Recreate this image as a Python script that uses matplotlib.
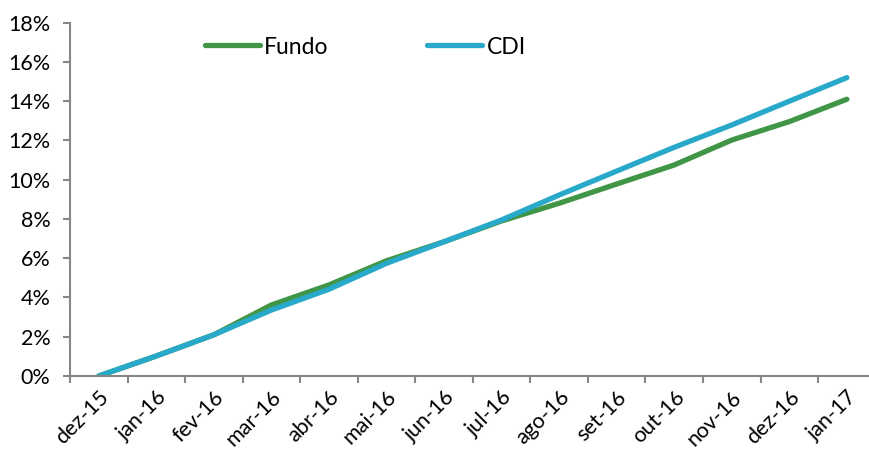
import numpy as np
import matplotlib
matplotlib.use("Agg")
import matplotlib.pyplot as plt
from matplotlib.ticker import FuncFormatter

months = ["dez-15", "jan-16", "fev-16", "mar-16", "abr-16", "mai-16", "jun-16",
          "jul-16", "ago-16", "set-16", "out-16", "nov-16", "dez-16", "jan-17"]
fundo = [0.0, 1.02, 2.10, 3.62, 4.64, 5.87, 6.84, 7.90, 8.80, 9.78, 10.75, 12.02, 12.96, 14.10]
cdi = [0.0, 1.02, 2.10, 3.36, 4.42, 5.74, 6.84, 7.95, 9.22, 10.44, 11.65, 12.79, 14.00, 15.20]
yticks = [0, 2, 4, 6, 8, 10, 12, 14, 16, 18]

plt.rcParams['font.family'] = ['Lato', 'DejaVu Sans']

fig = plt.figure(figsize=(8.69, 4.5), dpi=100)
ax = fig.add_axes([70/869, 1-376/450, 805.6/869, (376-22.7)/450])

x = np.arange(len(months))
ax.plot(x, fundo, color="#409646", lw=3.8, solid_capstyle="round", solid_joinstyle="round", label="Fundo")
ax.plot(x, cdi, color="#29a9c9", lw=3.8, solid_capstyle="round", solid_joinstyle="round", label="CDI")

ax.set_xlim(-0.5, len(months)-0.5)
ax.set_ylim(0, 18)
ax.set_yticks(yticks)
ax.yaxis.set_major_formatter(FuncFormatter(lambda v, p: "%d%%" % v))

# labels at category centres, tick marks at category borders
ax.set_xticks(x)
ax.set_xticklabels(months, rotation=45, ha="right", va="top", rotation_mode="anchor")
ax.set_xticks(np.arange(len(months)+1)-0.5, minor=True)
ax.tick_params(axis="x", which="major", length=0, pad=8, labelsize=15.5)
ax.tick_params(axis="x", which="minor", length=5, width=1.5, color="#868686", direction="out")
ax.tick_params(axis="y", length=5, width=1.5, color="#868686", labelsize=15.5, pad=9)

for s in ["top", "right"]:
    ax.spines[s].set_visible(False)
for s in ["left", "bottom"]:
    ax.spines[s].set_color("#868686")
    ax.spines[s].set_linewidth(1.5)

leg = ax.legend(loc="center left", bbox_to_anchor=(184/869, 1-47/450), bbox_transform=fig.transFigure,
                ncol=2, frameon=False, fontsize=16.5, handlelength=2.4, handletextpad=0.2,
                columnspacing=4.3)

fig.savefig("out.png", dpi=100)
